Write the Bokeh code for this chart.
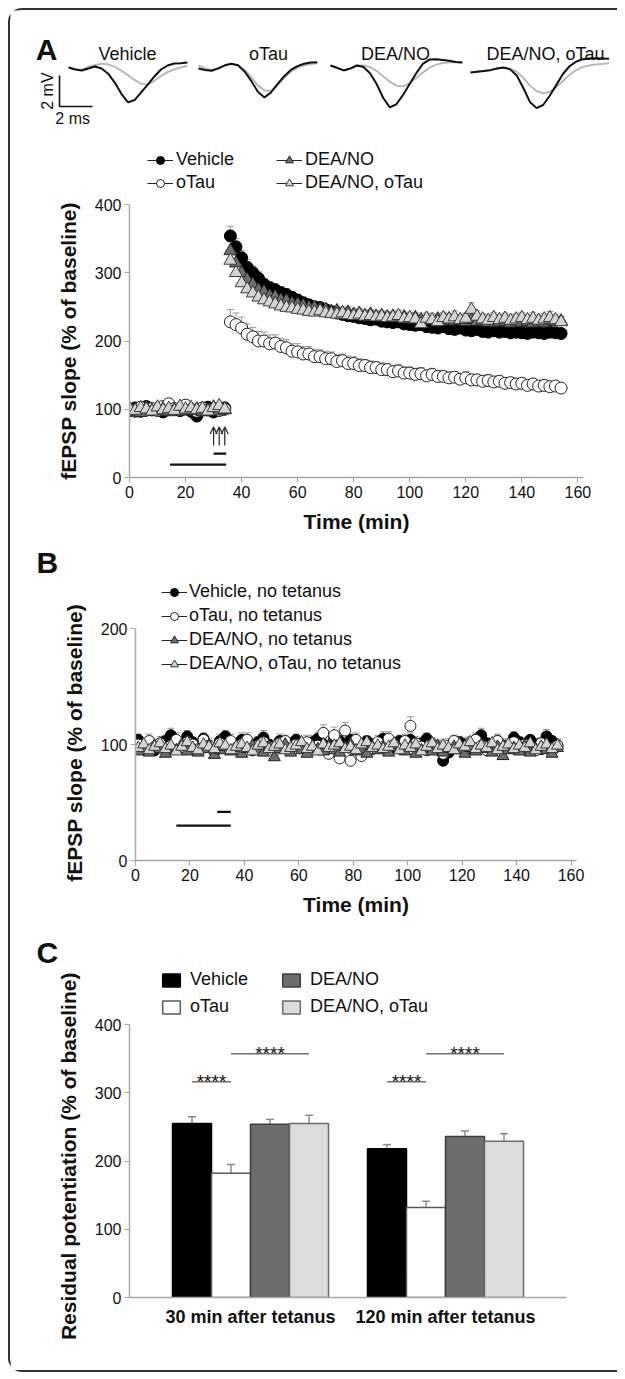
import math
from bokeh.plotting import figure
from bokeh.models import (ColumnDataSource, Range1d, FactorRange, Legend, LegendItem,
                          Label, SingleIntervalTicker, Arrow, OpenHead)
from bokeh.layouts import column
from bokeh.transform import dodge
from bokeh.core.properties import value
from bokeh.embed import file_html
from bokeh.resources import INLINE

FONT = "Liberation Sans"
INK = "#111111"
AXIS_GREY = "#a8a8a8"
ERR_GREY = "#9a9a9a"
W = 607
NAN = float("nan")
NBSP = "\u00a0"

# ---------------- Panel A, example traces (mV, sampled every 0.4 ms) ----------------
trace_names = ["Vehicle", "oTau", "DEA/NO", "DEA/NO, oTau"]
trace_step_ms = 0.4
veh_trace_before = [0, -0.1, -0.15, 0.05, 0.15, 0.25, 0.2, 0.05, -0.2, -0.5, -0.8, -1.05, -1.1, -0.85, -0.55, -0.3, -0.12, 0.0, 0.1]
veh_trace_after = [0, -0.13, -0.19, -0.06, 0.06, -0.06, -0.4, -0.97, -1.7, -2.25, -2.1, -1.6, -1.1, -0.58, -0.13, 0.13, 0.26, 0.28, 0.32]
otau_trace_before = [0.2, 0.0, -0.1, 0.0, 0.2, 0.3, 0.2, -0.1, -0.55, -1.1, -1.42, -1.45, -1.1, -0.6, -0.2, 0.05, 0.2, 0.28, 0.32]
otau_trace_after = [0, -0.1, -0.15, 0.0, 0.2, 0.3, 0.2, -0.2, -0.8, -1.5, -1.87, -1.55, -1.0, -0.5, -0.1, 0.15, 0.3, 0.38, 0.4]
dea_trace_before = [0, -0.15, -0.3, -0.2, 0.0, 0.0, -0.1, -0.35, -0.7, -1.05, -1.3, -1.35, -1.15, -0.8, -0.45, -0.15, 0.05, 0.15, 0.2, 0.2, 0.2]
dea_trace_after = [0, -0.15, -0.32, -0.2, 0.0, -0.1, -0.5, -1.2, -2.1, -2.7, -2.5, -1.9, -1.2, -0.5, 0.1, 0.38, 0.4, 0.35, 0.3, 0.22, 0.2]
deao_trace_before = [0, 0.05, 0.1, 0.15, 0.25, 0.3, 0.25, 0.05, -0.35, -0.85, -1.2, -1.35, -1.25, -0.95, -0.55, -0.15, 0.15, 0.35, 0.45, 0.52, 0.56, 0.58]
deao_trace_after = [0, 0.05, 0.1, 0.15, 0.25, 0.32, 0.2, -0.2, -1.0, -1.9, -2.3, -2.1, -1.5, -0.8, -0.1, 0.4, 0.7, 0.85, 0.9, 0.92, 0.9, 0.88]

# ---------------- Panel A, LTP time course ----------------
series_names = ["Vehicle", "oTau", "DEA/NO", "DEA/NO, oTau"]
tA_base = list(range(0, 36, 2))
tA_post = list(range(36, 156, 2))

veh_base = [98, 102, 97, 104, 99, 101, 96, 103, 100, 98, 105, 97, 90, 99, 103, 96, 100, 102]
otau_base = [100, 97, 103, 99, 101, 98, 104, 108, 101, 99, 106, 100, 97, 102, 99, 101, 98, 100]
dea_base = [96, 99, 95, 101, 98, 97, 100, 96, 99, 101, 97, 98, 100, 96, 99, 103, 97, 99]
deao_base = [101, 98, 102, 100, 97, 103, 99, 101, 98, 104, 100, 102, 99, 101, 97, 102, 105, 100]

veh_base_err = [5, 4, 6, 5, 4, 5, 6, 4, 5, 5, 4, 6, 5, 4, 5, 6, 5, 4]
otau_base_err = [6, 5, 5, 7, 6, 5, 6, 7, 5, 6, 6, 5, 7, 6, 5, 6, 5, 6]
dea_base_err = [4, 5, 4, 4, 5, 4, 5, 4, 4, 5, 4, 5, 4, 4, 5, 4, 5, 4]
deao_base_err = [5, 4, 5, 5, 4, 5, 4, 5, 5, 4, 5, 5, 4, 5, 4, 5, 5, 4]

veh_post = [354, 338, 322, 308, 300, 292, 283, 278, 275, 271,
            268, 264, 260, 256, 253, 250, 249, 246, 243, 241,
            239, 237, 236, 234, 233, 231, 232, 229, 228, 227,
            228, 225, 224, 223, 224, 221, 220, 219, 221, 218,
            217, 219, 216, 215, 217, 214, 213, 215, 213, 214,
            212, 213, 212, 211, 213, 212, 211, 213, 212, 211]
otau_post = [228, 224, 219, 210, 206, 200, 200, 196, 197, 192,
             190, 185, 184, 181, 181, 177, 177, 174, 174, 170,
             171, 167, 167, 164, 164, 161, 161, 158, 158, 155,
             156, 153, 153, 151, 152, 149, 151, 148, 148, 146,
             147, 144, 146, 143, 143, 141, 142, 140, 141, 138,
             139, 137, 138, 135, 137, 134, 135, 133, 134, 131]
dea_post = [332, 314, 300, 290, 283, 275, 272, 266, 265, 260,
            259, 255, 254, 252, 249, 249, 246, 246, 243, 244,
            241, 242, 239, 240, 237, 239, 236, 237, 235, 236,
            234, 235, 232, 234, 231, 233, 230, 232, 229, 232,
            229, 230, 228, 231, 228, 229, 227, 230, 227, 228,
            226, 229, 227, 228, 226, 229, 227, 230, 228, 229]
deao_post = [318, 300, 285, 276, 270, 264, 260, 257, 254, 251,
             249, 248, 246, 245, 243, 242, 244, 241, 240, 239,
             241, 238, 237, 239, 236, 237, 235, 236, 234, 235,
             237, 233, 234, 232, 225, 233, 231, 228, 234, 232,
             235, 231, 233, 246, 236, 232, 230, 234, 231, 233,
             230, 232, 234, 231, 233, 230, 232, 234, 231, 228]

veh_post_err = [14, 12, 11, 12, 10, 10, 9, 9, 9, 8, 9, 8, 8, 8, 7, 8, 7, 7, 7, 8,
                7, 7, 6, 7, 7, 6, 7, 6, 6, 7, 6, 6, 7, 6, 6, 6, 5, 6, 6, 5,
                6, 5, 6, 5, 5, 6, 5, 5, 6, 5, 5, 5, 6, 5, 5, 5, 6, 5, 5, 5]
otau_post_err = [18, 17, 16, 15, 14, 14, 13, 13, 12, 12, 12, 11, 12, 11, 11, 11, 10, 11, 10, 10,
                 10, 11, 10, 10, 9, 10, 9, 10, 9, 9, 10, 9, 9, 9, 9, 8, 9, 9, 8, 9,
                 8, 8, 9, 8, 8, 8, 9, 8, 8, 8, 7, 8, 8, 7, 8, 7, 8, 7, 7, 7]
dea_post_err = [14, 12, 11, 10, 10, 9, 9, 9, 8, 8, 8, 8, 8, 7, 8, 7, 8, 7, 8, 7,
                7, 8, 7, 7, 8, 7, 7, 7, 8, 7, 7, 7, 8, 7, 7, 7, 7, 8, 7, 7,
                7, 7, 8, 7, 7, 7, 7, 7, 8, 7, 7, 7, 7, 7, 8, 7, 7, 7, 7, 7]
deao_post_err = [13, 12, 11, 10, 10, 9, 9, 9, 9, 8, 8, 9, 8, 8, 8, 9, 8, 8, 9, 8,
                 8, 8, 9, 8, 8, 8, 9, 8, 8, 8, 8, 9, 8, 9, 8, 8, 9, 8, 8, 8,
                 9, 8, 8, 10, 8, 8, 9, 8, 8, 8, 9, 8, 8, 8, 9, 8, 8, 9, 8, 8]

tetanus_times = [30, 32, 34]
drug_long = (14.5, 34.5)
drug_short = (30, 34.5)

# ---------------- Panel B, no tetanus ----------------
series_names_b = ["Vehicle, no tetanus", "oTau, no tetanus", "DEA/NO, no tetanus", "DEA/NO, oTau, no tetanus"]
tB = list(range(1, 157, 2))
veh_b = [104, 97, 101, 95, 99, 103, 108, 100, 96, 107,
         102, 98, 105, 99, 94, 103, 107, 101, 97, 104,
         99, 95, 102, 106, 100, 98, 103, 97, 101, 104,
         99, 96, 102, 105, 100, 97, 106, 103, 99, 104,
         101, 96, 103, 100, 98, 105, 101, 97, 103, 99,
         104, 98, 101, 105, 100, 96, 86, 93, 98, 102,
         100, 97, 104, 108, 101, 98, 103, 99, 97, 106,
         102, 98, 104, 100, 96, 107, 103, 99]
otau_b = [100, 96, 103, 98, 101, 95, 99, 104, 97, 102,
          100, 96, 104, 99, 95, 101, 98, 103, 97, 100,
          104, 96, 99, 102, 98, 95, 101, 103, 97, 100,
          98, 102, 96, 99, 110, 92, 108, 88, 112, 86,
          104, 90, 99, 96, 102, 98, 105, 100, 97, 103,
          116, 101, 98, 95, 100, 97, 92, 99, 103, 98,
          96, 101, 104, 99, 95, 100, 103, 97, 99, 102,
          96, 100, 98, 95, 101, 97, 94, 99]
dea_b = [94, 97, 93, 99, 96, 92, 98, 95, 100, 94,
         97, 93, 96, 99, 91, 95, 98, 94, 97, 92,
         96, 99, 95, 93, 98, 89, 96, 100, 93, 97,
         95, 92, 98, 96, 94, 99, 95, 93, 97, 100,
         94, 96, 92, 98, 95, 97, 93, 99, 96, 94,
         98, 92, 95, 97, 94, 99, 93, 96, 98, 95,
         92, 97, 94, 99, 96, 93, 98, 90, 95, 97,
         94, 99, 93, 96, 98, 95, 92, 97]
deao_b = [97, 100, 95, 98, 101, 96, 99, 94, 98, 102,
          97, 95, 100, 98, 96, 101, 99, 95, 98, 100,
          97, 94, 99, 101, 96, 98, 100, 95, 97, 99,
          102, 96, 98, 94, 100, 97, 99, 101, 96, 98,
          95, 100, 102, 97, 99, 96, 98, 101, 95, 99,
          97, 100, 94, 98, 101, 96, 99, 97, 95, 100,
          98, 102, 96, 99, 97, 101, 95, 98, 100, 96,
          99, 97, 101, 95, 98, 100, 96, 99]
veh_b_err = [5, 4, 6, 5, 4, 5, 6, 4, 5, 5, 4, 6, 5, 4, 5, 6, 5, 4, 5, 6,
             4, 5, 5, 6, 4, 5, 6, 5, 4, 5, 5, 4, 6, 5, 5, 4, 6, 5, 4, 5,
             6, 5, 4, 5, 5, 6, 4, 5, 5, 4, 6, 5, 4, 5, 6, 5, 7, 4, 5, 5,
             6, 4, 5, 6, 5, 4, 5, 6, 4, 5, 5, 6, 4, 5, 5, 6, 4, 5]
otau_b_err = [6, 5, 6, 5, 6, 5, 6, 6, 5, 6, 5, 6, 5, 6, 5, 6, 5, 6, 6, 5,
              6, 5, 6, 5, 6, 5, 6, 5, 6, 6, 5, 6, 5, 6, 7, 6, 7, 6, 7, 6,
              6, 5, 6, 5, 6, 5, 6, 5, 6, 6, 8, 6, 5, 6, 5, 6, 5, 6, 5, 6,
              6, 5, 6, 5, 6, 5, 6, 5, 6, 6, 5, 6, 5, 6, 5, 6, 5, 6]
dea_b_err = [4, 5, 4, 4, 5, 4, 5, 4, 4, 5, 4, 5, 4, 4, 5, 4, 5, 4, 4, 5,
             4, 5, 4, 4, 5, 4, 5, 4, 4, 5, 4, 5, 4, 4, 5, 4, 5, 4, 4, 5,
             4, 5, 4, 4, 5, 4, 5, 4, 4, 5, 4, 5, 4, 4, 5, 4, 5, 4, 4, 5,
             4, 5, 4, 4, 5, 4, 5, 4, 4, 5, 4, 5, 4, 4, 5, 4, 5, 4]
deao_b_err = [5, 4, 5, 5, 4, 5, 4, 5, 5, 4, 5, 5, 4, 5, 4, 5, 5, 4, 5, 5,
              4, 5, 4, 5, 5, 4, 5, 5, 4, 5, 4, 5, 5, 4, 5, 5, 4, 5, 4, 5,
              5, 4, 5, 5, 4, 5, 4, 5, 5, 4, 5, 5, 4, 5, 4, 5, 5, 4, 5, 5,
              4, 5, 4, 5, 5, 4, 5, 5, 4, 5, 4, 5, 5, 4, 5, 5, 4, 5]
drug_long_b = (15, 35)
drug_short_b = (30, 35)

# ---------------- Panel C, residual potentiation ----------------
groups_c = ["30 min after tetanus", "120 min after tetanus"]
veh_c = [255, 218]
otau_c = [182, 132]
dea_c = [254, 236]
deao_c = [255, 229]
veh_c_err = [10, 6]
otau_c_err = [13, 9]
dea_c_err = [7, 8]
deao_c_err = [12, 11]
sig_low_y = [316, 316]     # Vehicle vs oTau
sig_high_y = [357, 357]    # oTau vs DEA/NO, oTau
sig_text = ["****", "****"]

for a, b in [(veh_base, tA_base), (otau_base, tA_base), (dea_base, tA_base), (deao_base, tA_base),
             (veh_base_err, tA_base), (otau_base_err, tA_base), (dea_base_err, tA_base), (deao_base_err, tA_base),
             (veh_post, tA_post), (otau_post, tA_post), (dea_post, tA_post), (deao_post, tA_post),
             (veh_post_err, tA_post), (otau_post_err, tA_post), (dea_post_err, tA_post), (deao_post_err, tA_post),
             (veh_b, tB), (otau_b, tB), (dea_b, tB), (deao_b, tB),
             (veh_b_err, tB), (otau_b_err, tB), (dea_b_err, tB), (deao_b_err, tB)]:
    assert len(a) == len(b), (len(a), len(b))

# ---------------- styles ----------------
MARKERS = [
    dict(marker="circle", size=12, fill_color="#000000", line_color="#000000", line_width=1),
    dict(marker="circle", size=12, fill_color="#ffffff", line_color="#222222", line_width=1),
    dict(marker="triangle", size=13, fill_color="#6e6e6e", line_color="#222222", line_width=1),
    dict(marker="triangle", size=13, fill_color="#d4d4d4", line_color="#3a3a3a", line_width=1),
]
MARKERS_B = [dict(st, size=st["size"] - 1) for st in MARKERS]
BARS = [
    dict(fill_color="#000000", line_color="#000000"),
    dict(fill_color="#ffffff", line_color="#5a5a5a"),
    dict(fill_color="#6d6d6d", line_color="#3c3c3c"),
    dict(fill_color="#dcdcdc", line_color="#6a6a6a"),
]

COMMON = dict(output_backend="svg", toolbar_location=None, frame_align=False)


def style_axes(p, xlabel, ylabel, ylabel_standoff=12):
    for ax in (p.xaxis[0], p.yaxis[0]):
        ax.axis_label_text_font = FONT
        ax.axis_label_text_font_style = "bold"
        ax.axis_label_text_font_size = "21px"
        ax.axis_label_text_color = INK
        ax.major_label_text_font = FONT
        ax.major_label_text_font_size = "16px"
        ax.major_label_text_color = INK
        ax.axis_line_color = AXIS_GREY
        ax.axis_line_width = 1.5
        ax.major_tick_line_color = AXIS_GREY
        ax.major_tick_line_width = 1.2
        ax.major_tick_out = 5
        ax.major_tick_in = 0
        ax.minor_tick_line_color = None
        ax.major_label_standoff = 3
    p.xaxis[0].axis_label = xlabel
    p.yaxis[0].axis_label = ylabel
    p.xaxis[0].axis_label_standoff = 9
    p.yaxis[0].axis_label_standoff = ylabel_standoff
    p.xgrid.visible = False
    p.ygrid.visible = False
    p.outline_line_color = None


def style_panel_title(p, text, offset):
    p.title.text = text
    p.title.align = "left"
    p.title.offset = offset
    p.title.standoff = 0
    p.title.text_font = FONT
    p.title.text_font_style = "bold"
    p.title.text_font_size = "30px"
    p.title.text_color = INK


def make_legend(items, loc, glyph_w=26, glyph_h=20, label_h=20, spacing=2, standoff=3):
    return Legend(items=items, location=loc, orientation="vertical",
                  glyph_width=glyph_w, glyph_height=glyph_h, label_height=label_h,
                  label_standoff=standoff, spacing=spacing, padding=0, margin=0,
                  border_line_color=None, background_fill_alpha=0,
                  label_text_font=FONT, label_text_font_size="18px", label_text_color=INK)


def legend_proxies(p, styles):
    # legend-only renderers (a single NaN point draws nothing in the plot)
    out = []
    for st in styles:
        ln = p.line(x=[NAN], y=[NAN], line_color="#222222", line_width=1)
        mk = p.scatter(x=[NAN], y=[NAN], **st)
        out.append([ln, mk])
    return out


# ================= top strip: traces + panel A legend =================
PX_MS = 16.5
PX_MV = 15.5
TOP_H = 186
tr = figure(width=W, height=TOP_H, x_range=Range1d(0, W / PX_MS),
            y_range=Range1d(57 / PX_MV - TOP_H / PX_MV, 57 / PX_MV),
            x_axis_location=None, y_axis_location=None,
            min_border_left=0, min_border_right=0, min_border_top=0, min_border_bottom=0, **COMMON)
tr.grid.visible = False
tr.outline_line_color = None

trace_x0 = [3.52, 11.39, 19.39, 27.88]
trace_y0 = [0.0, -0.06, 0.13, -0.32]
title_x = [7.09, 15.64, 23.33, 32.42]
pairs = [(veh_trace_before, veh_trace_after), (otau_trace_before, otau_trace_after),
         (dea_trace_before, dea_trace_after), (deao_trace_before, deao_trace_after)]
for i, (before, after) in enumerate(pairs):
    tt = [trace_x0[i] + k * trace_step_ms for k in range(len(before))]
    tr.line(tt, [v + trace_y0[i] for v in before], line_color="#b4b4b4", line_width=1.8)
    tr.line(tt, [v + trace_y0[i] for v in after], line_color="#111111", line_width=2.0)
    tr.add_layout(Label(x=title_x[i], y=0.9, text=trace_names[i], text_font=FONT, text_font_size="18px",
                        text_color=INK, text_align="center", text_baseline="alphabetic"))

scale_ms = 2
scale_mv = 2
sb_x, sb_y = 2.97, -2.52
tr.line([sb_x, sb_x, sb_x + scale_ms], [sb_y + scale_mv, sb_y, sb_y], line_color="#111111", line_width=1.6)
tr.add_layout(Label(x=2.24, y=sb_y + scale_mv / 2, text=f"{scale_mv} mV", angle=math.pi / 2, text_font=FONT,
                    text_font_size="16px", text_color=INK, text_align="center", text_baseline="middle"))
tr.add_layout(Label(x=sb_x + scale_ms / 2 - 0.2, y=-3.29, text=f"{scale_ms} ms", text_font=FONT,
                    text_font_size="16px", text_color=INK, text_align="center", text_baseline="middle"))
tr.add_layout(Label(x=36, y=TOP_H - 39, x_units="screen", y_units="screen", text="A",
                    text_font=FONT, text_font_style="bold", text_font_size="30px",
                    text_color=INK, text_align="center", text_baseline="middle"))

prox_a = legend_proxies(tr, MARKERS)
items_a = [LegendItem(label=series_names[i], renderers=prox_a[i]) for i in range(4)]
tr.add_layout(make_legend([items_a[0], items_a[1]], (137, 3)))
tr.add_layout(make_legend([items_a[2], items_a[3]], (266, 3)))

# ================= Panel A =================
pa = figure(width=W, height=344, x_range=Range1d(0, 162), y_range=Range1d(0, 400),
            min_border_left=119, min_border_right=34, min_border_top=8, min_border_bottom=63, **COMMON)
style_axes(pa, "Time (min)", "fEPSP slope (% of baseline)")
pa.xaxis.ticker = SingleIntervalTicker(interval=20, num_minor_ticks=0)
pa.yaxis.ticker = SingleIntervalTicker(interval=100, num_minor_ticks=0)

a_sets = [(veh_base, veh_post, veh_base_err, veh_post_err),
          (otau_base, otau_post, otau_base_err, otau_post_err),
          (dea_base, dea_post, dea_base_err, dea_post_err),
          (deao_base, deao_post, deao_base_err, deao_post_err)]
a_sources = []
for base, post, be, pe in a_sets:
    y = base + post
    e = be + pe
    a_sources.append(ColumnDataSource(dict(t=tA_base + tA_post, y=y, up=[yy + ee for yy, ee in zip(y, e)])))
for src in a_sources:
    pa.segment(x0="t", y0="y", x1="t", y1="up", source=src, line_color=ERR_GREY, line_width=1)
    pa.scatter(x="t", y="up", marker="dash", size=7, line_color=ERR_GREY, line_width=1, source=src)
for src, st in zip(a_sources, MARKERS):
    pa.scatter(x="t", y="y", source=src, **st)

pa.segment(x0=[drug_long[0], drug_short[0]], x1=[drug_long[1], drug_short[1]], y0=[19, 35], y1=[19, 35],
           line_color="#111111", line_width=2.2)
for tt in tetanus_times:
    pa.add_layout(Arrow(end=OpenHead(size=7, line_width=1.2, line_color="#222222"),
                        x_start=tt, y_start=47, x_end=tt, y_end=74, line_width=1.2, line_color="#222222"))

# ================= Panel B (frame extends above 200 to hold the legend) =================
B_PX = 232 / 200
B_FRAME = 282
pb = figure(width=W, height=385, x_range=Range1d(0, 162), y_range=Range1d(0, B_FRAME / B_PX),
            min_border_left=125, min_border_right=41, min_border_top=38, min_border_bottom=65, **COMMON)
style_panel_title(pb, "B", -99)
style_axes(pb, "Time (min)", "fEPSP slope (% of baseline)" + NBSP * 8)
pb.xaxis.ticker = SingleIntervalTicker(interval=20, num_minor_ticks=0)
pb.yaxis.ticker = SingleIntervalTicker(interval=100, num_minor_ticks=0)
pb.yaxis.bounds = (0, 200)

b_sources = []
for y, e in [(veh_b, veh_b_err), (otau_b, otau_b_err), (dea_b, dea_b_err), (deao_b, deao_b_err)]:
    b_sources.append(ColumnDataSource(dict(t=tB, y=y, up=[yy + ee for yy, ee in zip(y, e)])))
for src in b_sources:
    pb.segment(x0="t", y0="y", x1="t", y1="up", source=src, line_color=ERR_GREY, line_width=1)
    pb.scatter(x="t", y="up", marker="dash", size=7, line_color=ERR_GREY, line_width=1, source=src)
for src, st in zip(b_sources, MARKERS_B):
    pb.scatter(x="t", y="y", source=src, **st)
pb.segment(x0=[drug_long_b[0], drug_short_b[0]], x1=[drug_long_b[1], drug_short_b[1]], y0=[30, 42], y1=[30, 42],
           line_color="#111111", line_width=2.2)
prox_b = legend_proxies(pb, MARKERS_B)
items_b = [LegendItem(label=series_names_b[i], renderers=prox_b[i]) for i in range(4)]
pb.add_layout(make_legend(items_b, (26, 186), spacing=3, standoff=2))

# ================= Panel C (frame extends above 400 to hold the legend) =================
C_PX = 273 / 400
C_FRAME = 329
pc = figure(width=W, height=445,
            x_range=FactorRange(factors=groups_c, range_padding=0.1205, range_padding_units="absolute"),
            y_range=Range1d(0, C_FRAME / C_PX),
            min_border_left=119, min_border_right=51, min_border_top=43, min_border_bottom=73, **COMMON)
style_panel_title(pc, "C", -93)
style_axes(pc, "", "Residual potentiation (% of baseline)" + NBSP * 8)
pc.yaxis.ticker = SingleIntervalTicker(interval=100, num_minor_ticks=0)
pc.yaxis.bounds = (0, 400)
pc.xaxis.major_tick_line_color = None
pc.xaxis.major_tick_out = 0
pc.xaxis.major_label_standoff = 9
pc.xaxis.major_label_text_font_style = "bold"
pc.xaxis.major_label_text_font_size = "18px"

offsets = [-0.3, -0.1, 0.1, 0.3]
c_sets = [(veh_c, veh_c_err), (otau_c, otau_c_err), (dea_c, dea_c_err), (deao_c, deao_c_err)]
c_bars = []
for k, ((vals, errs), st) in enumerate(zip(c_sets, BARS)):
    src = ColumnDataSource(dict(g=groups_c, v=vals, up=[a + b for a, b in zip(vals, errs)]))
    xs = dodge("g", offsets[k], range=pc.x_range)
    pc.segment(x0=xs, x1=xs, y0="v", y1="up", source=src, line_color="#8c8c8c", line_width=1.5)
    pc.scatter(x=xs, y="up", marker="dash", size=8, line_color="#8c8c8c", line_width=1.5, source=src)
    c_bars.append(pc.vbar(x=xs, top="v", width=0.2, source=src, line_width=1.5, **st))

sig_low = ColumnDataSource(dict(g=groups_c, y=sig_low_y, ty=[v + 1 for v in sig_low_y], s=sig_text))
sig_high = ColumnDataSource(dict(g=groups_c, y=sig_high_y, ty=[v + 1 for v in sig_high_y], s=sig_text))
pc.segment(x0=dodge("g", -0.3, range=pc.x_range), x1=dodge("g", -0.1, range=pc.x_range), y0="y", y1="y",
           source=sig_low, line_color="#707070", line_width=1.5)
pc.segment(x0=dodge("g", -0.1, range=pc.x_range), x1=dodge("g", 0.3, range=pc.x_range), y0="y", y1="y",
           source=sig_high, line_color="#707070", line_width=1.5)
for src, off in [(sig_low, -0.2), (sig_high, 0.1)]:
    pc.text(x=dodge("g", off, range=pc.x_range), y="ty", text="s", source=src, text_font=value(FONT),
            text_font_size=value("19px"), text_color=INK, text_align="center", text_baseline="alphabetic")

items_c = [LegendItem(label=series_names[i], renderers=[c_bars[i]]) for i in range(4)]
pc.add_layout(make_legend([items_c[0], items_c[1]], (31, 280), glyph_w=22, glyph_h=16, spacing=6, standoff=8))
pc.add_layout(make_legend([items_c[2], items_c[3]], (151, 280), glyph_w=22, glyph_h=16, spacing=6, standoff=8))

layout = column(tr, pa, pb, pc, margin=(8, 0, 0, 8), styles={
    "border-left": "2px solid #333",
    "border-top": "2px solid #333",
    "border-bottom": "2px solid #333",
    "border-right": "none",
    "border-top-left-radius": "14px",
    "border-bottom-left-radius": "14px",
})

open("out.html", "w").write(file_html(layout, INLINE))
